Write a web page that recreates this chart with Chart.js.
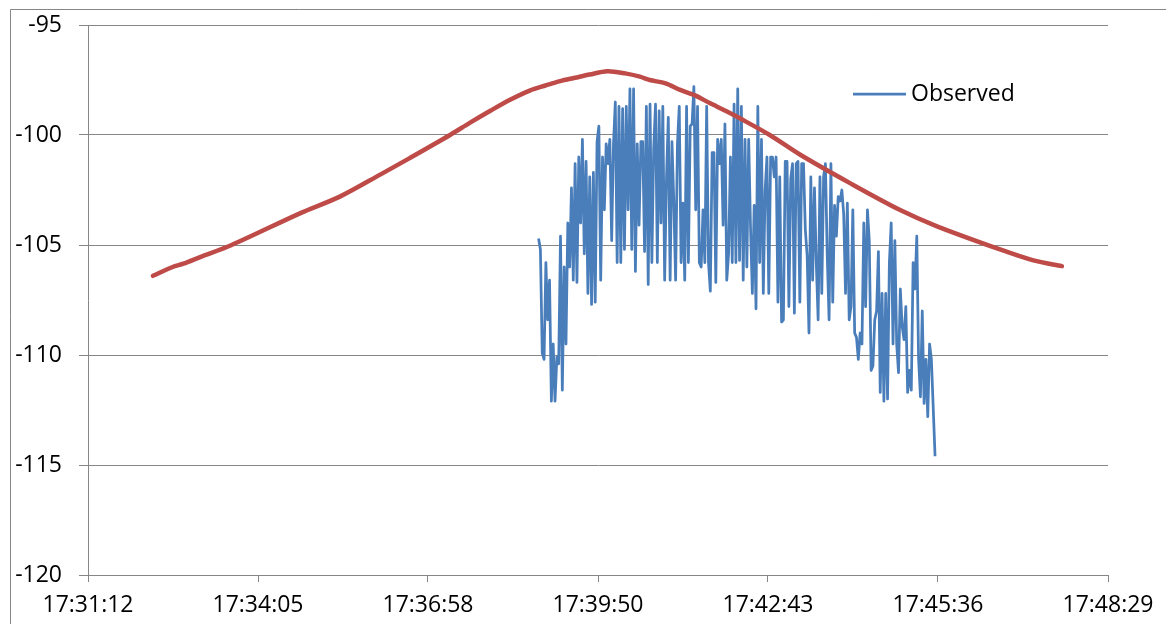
<!DOCTYPE html>
<html>
<head>
<meta charset="utf-8">
<script src="https://cdn.jsdelivr.net/npm/chart.js@4.4.1/dist/chart.umd.min.js"></script>
<style>
  html, body { margin: 0; padding: 0; background: #fff; }
  #wrap { width: 1166px; height: 624px; }
</style>
</head>
<body>
<div id="wrap"><canvas id="signalChart" width="1166" height="624"></canvas></div>
<script>
/* chart data */
var predTimes = ['17:32:18', '17:32:38', '17:32:49', '17:33:06', '17:33:38', '17:34:48', '17:35:28',
    '17:36:09', '17:36:39', '17:37:20', '17:37:40', '17:38:01', '17:38:21', '17:38:41', '17:38:57',
    '17:39:12', '17:39:27', '17:39:42', '17:40:00', '17:40:18', '17:40:33', '17:40:43', '17:40:59',
    '17:41:14', '17:41:29', '17:41:44', '17:42:00', '17:42:15', '17:42:45', '17:43:16', '17:44:07',
    '17:44:57', '17:45:35', '17:46:39', '17:47:13', '17:47:42'];
var predValues = [-106.4, -106.0, -105.85, -105.55, -105.0, -103.55, -102.8,
    -101.8, -101.05, -100.0, -99.45, -98.9, -98.4, -97.98, -97.75,
    -97.55, -97.4, -97.25, -97.1, -97.2, -97.35, -97.5, -97.65,
    -97.95, -98.2, -98.55, -98.9, -99.25, -100.0, -100.9, -102.2,
    -103.4, -104.15, -105.2, -105.7, -105.96];

// observed samples, evenly spaced between first and last sample time
var obsStart = '17:38:50';
var obsEnd = '17:45:33';
var obsValues = [
    -104.7, -105.2, -109.9, -110.2, -105.8, -108.4, -106.6, -112.1, -109.5, -112.1,
    -110.1, -110.4, -104.6, -111.6, -106.0, -109.5, -104.0, -106.0, -102.4, -106.6,
    -101.3, -106.7, -101.0, -104.0, -100.2, -105.4, -101.2, -107.2, -101.9, -107.7,
    -101.7, -107.6, -100.3, -99.6, -106.6, -101.0,
    -103.4, -100.4, -101.3, -100.2, -104.8, -100.4, -98.5, -105.8, -98.7, -105.8,
    -98.8, -105.2, -98.7, -103.4, -97.9, -105.2, -97.9, -106.2, -100.4, -104.1,
    -100.3, -100.3, -105.3, -98.7, -106.8, -98.6, -105.8, -100.6, -98.6, -105.8,
    -98.9, -104.0, -98.7, -106.6,
    -102.0, -99.2, -106.6, -100.3, -103.0, -106.6, -100.4, -98.7, -105.8, -103.1,
    -106.6, -98.7, -105.8, -99.6, -99.5, -97.8, -103.4, -98.7, -105.8, -106.0,
    -103.4, -105.8, -98.7, -105.8, -107.1, -100.8, -100.8, -106.7, -100.2, -101.3,
    -100.2, -104.1, -99.5, -106.6,
    -105.4, -101.0, -105.8, -98.6, -105.8, -97.9, -105.7, -98.7, -106.6, -100.2,
    -106.0, -100.2, -104.2, -107.2, -103.2, -107.9, -98.7, -105.8, -100.2, -107.2,
    -102.5, -101.0, -107.2, -101.0, -101.0, -101.9, -101.0, -107.6, -101.9, -108.5,
    -108.4, -101.2, -101.2, -107.8, -102.0, -101.3, -108.1,
    -101.3, -101.2, -107.6, -101.3, -101.3, -104.3, -105.5, -109.0, -101.9, -106.6,
    -102.4, -105.8, -108.4, -101.9, -107.2, -101.9, -101.3, -105.5, -108.4, -101.3,
    -107.6, -103.2, -104.6, -102.8, -103.0, -102.5, -103.6, -107.2, -103.1, -108.4,
    -107.8, -103.4, -109.0, -109.2,
    -110.2, -109.0, -109.5, -104.0, -107.8, -103.4, -104.8, -110.7, -110.5, -108.4,
    -108.0, -105.3, -111.7, -107.2, -112.1, -107.2, -112.0, -105.8, -104.0, -109.5,
    -104.8, -109.5, -110.8, -107.0, -108.7, -109.3, -107.8, -111.7, -110.7, -111.6,
    -105.8, -107.0, -104.6, -110.2, -111.9, -108.0, -112.2, -110.2, -112.8, -109.5,
    -110.2, -112.4, -114.6
];

// axis ticks (excel style: 0.002 day steps)
var xTickStart = '17:31:12';
var xTickStep = 172.8;
var xTickCount = 7;
var yTicks = [-120, -115, -110, -105, -100, -95];

function toSec(str) {
    var p = str.split(':');
    return (+p[0]) * 3600 + (+p[1]) * 60 + (+p[2]);
}
function toLabel(sec) {
    sec = Math.round(sec);
    var h = Math.floor(sec / 3600);
    var m = Math.floor((sec % 3600) / 60);
    var s = sec % 60;
    return h + ':' + String(m).padStart(2, '0') + ':' + String(s).padStart(2, '0');
}

var predData = predTimes.map((t, i) => ({ x: toSec(t), y: predValues[i] }));
var t0 = toSec(obsStart), t1 = toSec(obsEnd);
var obsData = obsValues.map((v, i) => ({ x: t0 + (t1 - t0) * i / (obsValues.length - 1), y: v }));

var xMin = toSec(xTickStart);
var xMax = xMin + xTickStep * (xTickCount - 1);

var FONT = "'Open Sans', 'Liberation Sans', sans-serif";
var GRID = '#868686';
var BLUE = '#4A7EBB';
var RED = '#BE4B48';

// chart frame + legend like the excel one
var framePlugin = {
    id: 'frame',
    beforeDraw(chart) {
        var c = chart.ctx;
        c.save();
        c.fillStyle = '#fff';
        c.fillRect(0, 0, chart.width, chart.height);
        c.strokeStyle = GRID;
        c.lineWidth = 1;
        c.beginPath();
        c.moveTo(10.5, chart.height);
        c.lineTo(10.5, 9.5);
        c.lineTo(chart.width, 9.5);
        c.stroke();
        c.restore();
    },
    afterDraw(chart) {
        var c = chart.ctx;
        c.save();
        c.strokeStyle = BLUE;
        c.lineWidth = 2.75;
        c.beginPath();
        c.moveTo(853, 94);
        c.lineTo(906, 94);
        c.stroke();
        c.fillStyle = '#000';
        c.font = '23px ' + FONT;
        c.textBaseline = 'middle';
        c.fillText(chart.data.datasets[1].label, 911, 94);
        c.restore();
    }
};

var ctx = document.getElementById('signalChart').getContext('2d');
var signalChart = new Chart(ctx, {
    type: 'line',
    data: {
        datasets: [
            {
                label: 'Predicted',
                data: predData,
                borderColor: RED,
                borderWidth: 4.5,
                borderCapStyle: 'round',
                borderJoinStyle: 'round',
                pointRadius: 0,
                tension: 0.3,
                order: 0
            },
            {
                label: 'Observed',
                data: obsData,
                borderColor: BLUE,
                borderWidth: 2.75,
                borderJoinStyle: 'round',
                pointRadius: 0,
                tension: 0,
                order: 1
            }
        ]
    },
    options: {
        responsive: false,
        devicePixelRatio: 1,
        animation: false,
        events: [],
        layout: { padding: { left: 0, top: 25, right: 58, bottom: 0 } },
        plugins: {
            legend: { display: false },
            tooltip: { enabled: false }
        },
        scales: {
            x: {
                type: 'linear',
                min: xMin,
                max: xMax,
                afterFit: scale => {
                    scale.height = 49;
                    scale.paddingLeft = 0;
                    scale.paddingRight = 0;
                },
                afterBuildTicks: scale => {
                    scale.ticks = [];
                    for (var k = 0; k < xTickCount; k++) scale.ticks.push({ value: xMin + k * xTickStep });
                },
                grid: { drawOnChartArea: false, drawTicks: true, tickLength: 7, color: GRID, lineWidth: 1 },
                border: { display: true, color: GRID, width: 1 },
                ticks: {
                    color: '#000',
                    font: { family: FONT, size: 23 },
                    padding: 10,
                    maxRotation: 0,
                    autoSkip: false,
                    callback: v => toLabel(v)
                }
            },
            y: {
                min: yTicks[0],
                max: yTicks[yTicks.length - 1],
                afterFit: scale => {
                    scale.width = 88;
                    scale.paddingTop = 0;
                    scale.paddingBottom = 0;
                },
                afterBuildTicks: scale => { scale.ticks = yTicks.map(v => ({ value: v })); },
                grid: { drawTicks: true, tickLength: 9, color: GRID, lineWidth: 1 },
                border: { display: true, color: GRID, width: 1 },
                ticks: {
                    color: '#000',
                    font: { family: FONT, size: 23 },
                    padding: 17,
                    callback: v => String(v)
                }
            }
        }
    },
    plugins: [framePlugin]
});
</script>
</body>
</html>
